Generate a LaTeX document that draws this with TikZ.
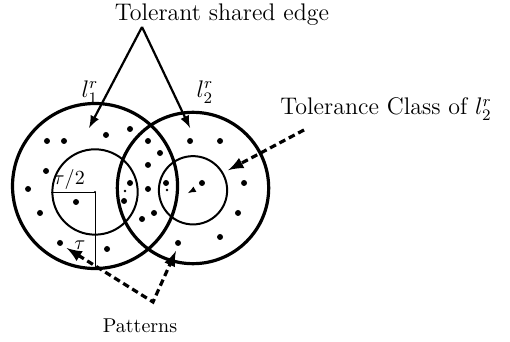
\documentclass[tikz,border=0pt]{standalone}
\begin{document}
\begin{tikzpicture}[
    >=latex,
    outer/.style={draw,circle,line width=1.6pt,inner sep=0pt},
    inner/.style={draw,circle,line width=1pt,inner sep=0pt},
    dot/.style={fill,circle,inner sep=0pt,minimum size=3pt},
    lbl/.style={font=\large,inner sep=0pt},
    arr/.style={->,line width=1.1pt},
    darr/.style={->,line width=1.6pt,dash pattern=on 3.3pt off 2pt}
]
\useasboundingbox (-1.67,-2.619) rectangle (7.293,3.374);
% tolerance classes
\node[outer,minimum size=2.9cm] (o1) at (0,0.105) {};
\node[inner,minimum size=1.5cm] (i1) at (0,0) {};
\node[outer,minimum size=2.66cm] (o2) at (1.722,0.07) {};
\node[inner,minimum size=1.2cm] (i2) at (1.722,0.03) {};
\node[lbl] (l1) at (-0.088,1.757) {$l_1^r$};
\node[lbl] (l2) at (1.933,1.757) {$l_2^r$};
% radii
\draw[thin] (i1.center) -- (i1.west);
\draw[thin] (i1.center) -- (o1.south);
\fill (i1.center) circle (0.6pt);
\node[anchor=south west,inner sep=1pt] (half) at (i1.west) {$\tau/2$};
\node (tau) at (-0.264,-0.93) {$\tau$};
\draw[->,line width=0.4pt] (i2.center) -- ++(-0.09,-0.05);
\fill (0.527,0.018) circle (0.7pt);
\fill (1.265,0.035) circle (0.7pt);
% patterns
\foreach \x/\y [count=\i] in {-0.844/0.896,-0.545/0.896,0.193/1.002,0.615/1.107,
    0.931/0.896,1.670/0.896,2.197/0.896,1.142/0.685,-0.861/0.369,0.931/0.475,
    -1.177/0.053,0.615/0.158,0.931/0.053,1.248/0.158,1.880/0.158,2.619/0.158,
    -0.334/-0.176,0.510/-0.158,-0.967/-0.369,1.037/-0.369,0.826/-0.475,
    2.513/-0.369,2.197/-0.791,-0.615/-0.896,0.211/-1.002,1.459/-0.896}
    \node[dot] (p\i) at (\x,\y) {};
% labels and pointers
\node[lbl,anchor=base] (shared) at (2.23,3.005) {Tolerant shared edge};
\coordinate (apex) at (0.826,2.9);
\coordinate (tipl) at (-0.105,1.125);
\coordinate (tipr) at (1.67,1.125);
\draw[arr] (apex) -- (tipl);
\draw[arr] (apex) -- (tipr);
\node[lbl,anchor=base west] (tclass) at (3.251,1.353) {Tolerance Class of $l_2^r$};
\coordinate (tcfrom) at (3.673,1.09);
\draw[darr,shorten >=2.7pt] (tcfrom) -- (i2.30);
\node[anchor=base,inner sep=0pt] (pat) at (0.791,-2.478) {Patterns};
\coordinate (bend) at (1.019,-1.933);
\draw[darr,<->,shorten <=2.5pt,shorten >=2.5pt] (p24.south east) -- (bend) -- (p26.south);
\end{tikzpicture}
\end{document}
